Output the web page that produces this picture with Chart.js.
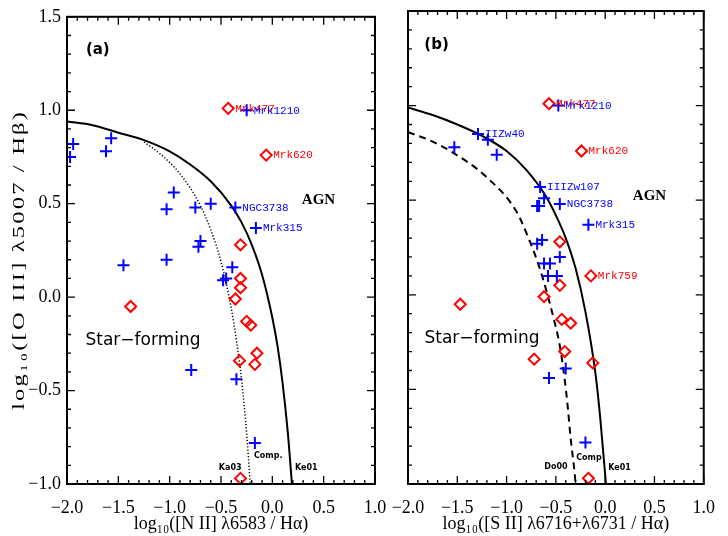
<!DOCTYPE html>
<html>
<head>
<meta charset="utf-8">
<script src="https://cdn.jsdelivr.net/npm/chart.js@4.4.1/dist/chart.umd.min.js"></script>
<style>
  body { margin: 0; background: #fff; }
  #wrap { position: relative; width: 728px; height: 536px; }
  canvas { position: absolute; left: 0; top: 0; }
</style>
</head>
<body>
<div id="wrap">
  <canvas id="bptNII" width="728" height="536"></canvas>
  <canvas id="bptSII" width="728" height="536"></canvas>
</div>
<script>
// ---- panel (a): [N II]/Ha vs [O III]/Hb ----
const niiBlueX = [-1.94, -1.97, -1.57, -1.62, -0.96, -1.03, -0.75, -0.60, -0.70, -0.72, -1.03, -1.45, -0.48, -0.45, -0.39, -0.25, -0.36, -0.16, -0.79, -0.35, -0.17];
const niiBlueY = [0.82, 0.75, 0.85, 0.78, 0.56, 0.47, 0.48, 0.50, 0.30, 0.27, 0.20, 0.17, 0.09, 0.10, 0.16, 1.00, 0.48, 0.37, -0.39, -0.44, -0.78];
const niiBlueTag = ['', '', '', '', '', '', '', '', '', '', '', '', '', '', '', 'Mrk1210', 'NGC3738', 'Mrk315', '', '', ''];

const niiRedX = [-0.43, -0.06, -0.31, -0.31, -0.31, -0.36, -0.25, -0.21, -0.15, -0.17, -0.32, -0.31, -1.38];
const niiRedY = [1.01, 0.76, 0.28, 0.10, 0.05, -0.01, -0.13, -0.15, -0.30, -0.36, -0.34, -0.97, -0.05];
const niiRedTag = ['Mrk477', 'Mrk620', '', '', '', '', '', '', '', '', '', '', ''];

// Ke01 (solid) and Ka03 (dotted) boundaries
const keNIIx = [-2.0, -1.75, -1.5, -1.25, -1.0, -0.8, -0.6, -0.4, -0.3, -0.2, -0.1, 0.0, 0.05, 0.1, 0.15, 0.191];
const keNIIy = [0.94, 0.92, 0.88, 0.84, 0.78, 0.71, 0.62, 0.49, 0.40, 0.28, 0.12, -0.11, -0.26, -0.46, -0.72, -1.0];
const kaNIIx = [-1.25, -1.1, -0.9, -0.7, -0.6, -0.5, -0.4, -0.35, -0.3, -0.25, -0.215];
const kaNIIy = [0.83, 0.77, 0.66, 0.49, 0.36, 0.19, -0.06, -0.23, -0.44, -0.73, -1.0];

// ---- panel (b): [S II]/Ha vs [O III]/Hb ----
const siiBlueX = [-1.29, -1.19, -1.53, -1.10, -0.66, -0.62, -0.69, -0.67, -0.46, -0.17, -0.64, -0.69, -0.46, -0.62, -0.56, -0.58, -0.49, -0.475, -0.40, -0.57, -0.20];
const siiBlueY = [0.85, 0.82, 0.78, 0.74, 0.57, 0.51, 0.47, 0.47, 0.48, 0.37, 0.29, 0.27, 0.20, 0.165, 0.165, 0.10, 0.10, 1.00, -0.39, -0.44, -0.78];
const siiBlueTag = ['IIZw40', '', '', '', 'IIIZw107', '', '', '', 'NGC3738', 'Mrk315', '', '', '', '', '', '', '', 'Mrk1210', '', '', ''];

const siiRedX = [-0.57, -0.24, -0.46, -0.145, -0.46, -0.62, -0.44, -0.35, -0.41, -0.72, -0.126, -0.17, -1.47];
const siiRedY = [1.01, 0.76, 0.28, 0.10, 0.05, -0.01, -0.13, -0.15, -0.30, -0.34, -0.36, -0.97, -0.05];
const siiRedTag = ['Mrk477', 'Mrk620', '', 'Mrk759', '', '', '', '', '', '', '', '', ''];

// Ke01 (solid) and Do00 (dashed) boundaries
const keSIIx = [-2.0, -1.75, -1.5, -1.25, -1.0, -0.8, -0.6, -0.5, -0.4, -0.3, -0.2, -0.1, -0.05, 0.0, 0.007];
const keSIIy = [0.99, 0.95, 0.90, 0.84, 0.76, 0.66, 0.52, 0.42, 0.30, 0.14, -0.09, -0.41, -0.65, -0.95, -1.0];
const doSIIx = [-2.0, -1.75, -1.54, -1.22, -0.9, -0.77, -0.67, -0.59, -0.52, -0.46, -0.41, -0.38, -0.35, -0.31, -0.30];
const doSIIy = [0.86, 0.81, 0.75, 0.63, 0.44, 0.29, 0.15, 0.01, -0.13, -0.27, -0.45, -0.59, -0.76, -0.94, -1.0];

const BLUE = '#0000ff';
const RED = '#ff0000';
const pts = (xs, ys) => xs.map((v, i) => ({ x: v, y: ys[i] }));
const fmt = v => (v < -1e-9 ? '\u2212' : '') + Math.abs(v).toFixed(1);

// IDL-like box with inward ticks on all four sides
const boxTicks = {
  id: 'boxTicks',
  afterDatasetsDraw(chart) {
    const { ctx, chartArea: a, scales: { x, y } } = chart;
    ctx.save();
    ctx.strokeStyle = '#000';
    ctx.lineWidth = 1.3;
    ctx.beginPath();
    for (let i = Math.round(x.min * 10); i <= Math.round(x.max * 10); i++) {
      const p = x.getPixelForValue(i / 10);
      const len = i % 5 === 0 ? 8 : 4;
      ctx.moveTo(p, a.bottom); ctx.lineTo(p, a.bottom - len);
      ctx.moveTo(p, a.top); ctx.lineTo(p, a.top + len);
    }
    for (let i = Math.round(y.min * 10); i <= Math.round(y.max * 10); i++) {
      const p = y.getPixelForValue(i / 10);
      const len = i % 5 === 0 ? 8 : 4;
      ctx.moveTo(a.left, p); ctx.lineTo(a.left + len, p);
      ctx.moveTo(a.right, p); ctx.lineTo(a.right - len, p);
    }
    ctx.stroke();
    ctx.lineWidth = 2;
    ctx.strokeRect(a.left, a.top, a.right - a.left, a.bottom - a.top);
    ctx.restore();
  }
};

// object names next to points, region notes, y title
const notes = {
  id: 'notes',
  afterDatasetsDraw(chart, args, opts) {
    const { ctx, scales: { x, y } } = chart;
    ctx.save();
    ctx.font = '11px "Liberation Mono"';
    ctx.textBaseline = 'middle';
    ctx.textAlign = 'left';
    [1, 0].forEach(di => {
      const ds = chart.data.datasets[di];
      chart.getDatasetMeta(di).data.forEach((el, j) => {
        if (!ds.tags[j]) return;
        ctx.fillStyle = ds.borderColor;
        ctx.fillText(ds.tags[j], el.x + 7, el.y + 0.5);
      });
    });
    ctx.fillStyle = '#000';
    ctx.textAlign = 'center';
    (opts.items || []).forEach(n => {
      ctx.font = n.font;
      ctx.fillText(n.text, x.getPixelForValue(n.x), y.getPixelForValue(n.y));
    });
    if (opts.yTitle) {
      // the reference title is long: widen glyphs a little and space them out
      ctx.font = '17px "Liberation Serif"';
      ctx.letterSpacing = '1.5px';
      const w = ctx.measureText(opts.yTitle).width;
      ctx.translate(20, 260);
      ctx.rotate(-Math.PI / 2);
      ctx.scale(300 / w, 1);
      ctx.fillText(opts.yTitle, 0, 0);
    }
    ctx.restore();
  }
};

function makePanel(id, cfg) {
  const tickFont = { family: 'Liberation Serif', size: 18 };
  new Chart(document.getElementById(id), {
    type: 'scatter',
    data: {
      datasets: [
        { data: pts(cfg.blueX, cfg.blueY), tags: cfg.blueTag, pointStyle: 'cross',
          pointRadius: 6, pointHoverRadius: 6, borderColor: BLUE, borderWidth: 2 },
        { data: pts(cfg.redX, cfg.redY), tags: cfg.redTag, pointStyle: 'rectRot',
          pointRadius: 5.5, pointHoverRadius: 5.5, borderColor: RED, backgroundColor: 'rgba(0,0,0,0)', borderWidth: 2 },
        { data: pts(cfg.keX, cfg.keY), showLine: true, pointRadius: 0, borderColor: '#000',
          borderWidth: 2, cubicInterpolationMode: 'monotone' },
        { data: pts(cfg.lowX, cfg.lowY), showLine: true, pointRadius: 0, borderColor: '#000',
          borderWidth: cfg.lowWidth, borderDash: cfg.lowDash, cubicInterpolationMode: 'monotone' }
      ]
    },
    options: {
      responsive: false,
      animation: false,
      events: [],
      layout: { padding: { left: 0, top: 11, right: cfg.padRight, bottom: 0 } },
      plugins: {
        legend: { display: false },
        tooltip: { enabled: false },
        notes: { items: cfg.notes, yTitle: cfg.yTitle }
      },
      scales: {
        x: {
          type: 'linear', min: -2, max: 1,
          afterFit: s => { s.height = 52; },
          grid: { display: false, drawTicks: false },
          border: { display: false },
          ticks: { stepSize: 0.5, autoSkip: false, maxRotation: 0, padding: 13,
                   color: '#000', font: tickFont, callback: fmt },
          title: { display: true, text: cfg.xTitle, color: '#000', padding: 1,
                   font: { family: 'Liberation Serif', size: 18 } }
        },
        y: {
          type: 'linear', min: -1, max: 1.5,
          afterFit: s => { s.width = cfg.yWidth; },
          grid: { display: false, drawTicks: false },
          border: { display: false },
          ticks: { display: cfg.yLabels, stepSize: 0.5, padding: 6, color: '#000',
                   font: tickFont, callback: fmt }
        }
      }
    },
    plugins: [boxTicks, notes]
  });
}

const small = 'bold 8px "DejaVu Sans"';
const agnFont = 'bold 15px "Liberation Serif"';
makePanel('bptNII', {
  blueX: niiBlueX, blueY: niiBlueY, blueTag: niiBlueTag,
  redX: niiRedX, redY: niiRedY, redTag: niiRedTag,
  keX: keNIIx, keY: keNIIy, lowX: kaNIIx, lowY: kaNIIy,
  lowDash: [1.2, 2], lowWidth: 1.5,
  yWidth: 67, padRight: 728 - 375, yLabels: true,
  xTitle: 'log\u2081\u2080([N II] \u03bb6583 / H\u03b1)',
  yTitle: 'log\u2081\u2080([O III] \u03bb5007 / H\u03b2)',
  notes: [
    { text: '(a)', x: -1.70, y: 1.32, font: 'bold 15px "DejaVu Sans"' },
    { text: 'AGN', x: 0.45, y: 0.52, font: agnFont },
    { text: 'Star\u2212forming', x: -1.26, y: -0.23, font: '17px "DejaVu Sans"' },
    { text: 'Ka03', x: -0.41, y: -0.915, font: small },
    { text: 'Comp.', x: -0.04, y: -0.85, font: small },
    { text: 'Ke01', x: 0.33, y: -0.915, font: small }
  ]
});

makePanel('bptSII', {
  blueX: siiBlueX, blueY: siiBlueY, blueTag: siiBlueTag,
  redX: siiRedX, redY: siiRedY, redTag: siiRedTag,
  keX: keSIIx, keY: keSIIy, lowX: doSIIx, lowY: doSIIy,
  lowDash: [7, 5], lowWidth: 2,
  yWidth: 408, padRight: 728 - 717, yLabels: false,
  xTitle: 'log\u2081\u2080([S II] \u03bb6716+\u03bb6731 / H\u03b1)',
  notes: [
    { text: '(b)', x: -1.71, y: 1.32, font: 'bold 15px "DejaVu Sans"' },
    { text: 'AGN', x: 0.45, y: 0.52, font: agnFont },
    { text: 'Star\u2212forming', x: -1.25, y: -0.23, font: '17px "DejaVu Sans"' },
    { text: 'Do00', x: -0.50, y: -0.91, font: small },
    { text: 'Comp', x: -0.165, y: -0.86, font: small },
    { text: 'Ke01', x: 0.145, y: -0.915, font: small }
  ]
});
</script>
</body>
</html>
